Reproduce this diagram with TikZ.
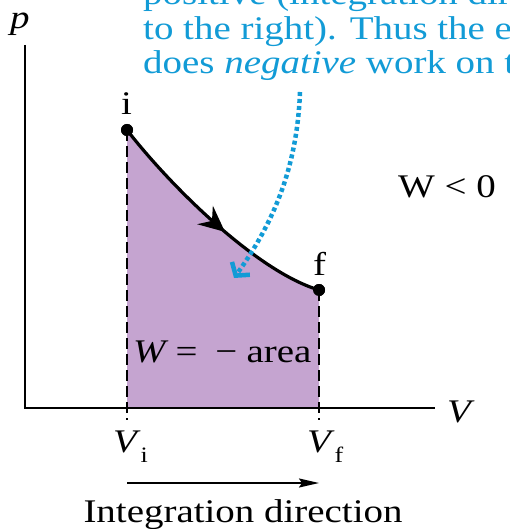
\documentclass[tikz,border=0pt]{standalone}
\usepackage{fontspec}
\setmainfont{Liberation Serif}
\usetikzlibrary{arrows.meta,decorations.markings}

\definecolor{areapurple}{RGB}{197,164,208}
\definecolor{noteblue}{RGB}{18,155,214}
\newcommand{\wide}[1]{\scalebox{1.18}[1]{#1}}

\begin{document}
\begin{tikzpicture}[x=1pt, y=-1pt, font=\fontsize{33}{36}\selectfont,
  axisline/.style={line width=2.4pt},
  bound/.style={line width=2.4pt, dash pattern=on 11pt off 5pt},
  statept/.style={circle, fill=black, inner sep=0pt, minimum size=12pt},
  lbl/.style={inner sep=0pt, anchor=base west},
  note/.style={lbl, text=noteblue}]

  \useasboundingbox (0,0) rectangle (509,529);
  \clip (0,0) rectangle (509,529);

  % === STATES AND AREA ===
  \node[statept] (i) at (127,130) {};
  \node[statept] (f) at (319,290) {};
  \coordinate (Vi) at (127,420);
  \coordinate (Vf) at (319,420);

  % Area under the process curve
  \fill[areapurple] (127,408) -- (i.center)
    .. controls (172,188) and (258,272) .. (f.center)
    -- (319,408) -- cycle;

  % Dashed bounds
  \draw[bound] (i.center) -- (Vi);
  \draw[bound] (f.center) -- (Vf);

  % Axes
  \coordinate (ptop) at (25,45);
  \coordinate (O) at (25,408);
  \coordinate (vend) at (435,408);
  \draw[axisline] (ptop) -- (O) -- (vend);
  \node[lbl] (plbl) at (10,29) {\wide{\textit{p}}};
  \node[lbl] (Vlbl) at (447,422) {\wide{\textit{V}}};

  % Process curve i -> f
  \draw[line width=3.2pt, postaction={decorate},
    decoration={markings, mark=at position 0.56 with
      {\arrow{Stealth[length=26pt, width=24pt, inset=9pt]}}}]
    (i.center) .. controls (172,188) and (258,272) .. (f.center);
  \node[statept] at (i) {};
  \node[statept] at (f) {};
  \node[lbl] (ilbl) at (121,115) {\wide{i}};
  \node[lbl] (flbl) at (313,275) {\wide{f}};

  % === NOTE ===
  \node[note] (note1) at (143,5) {\wide{positive (integration direction is}};
  \node[note] (note2) at (143,40) {\wide{to the right). Thus the environment}};
  \node[note] (note3) at (143,74) {\wide{does \textit{negative} work on the gas.}};
  \coordinate (nstart) at (300,92);
  \coordinate (nend) at (234,278);
  \draw[noteblue, line width=4.5pt, dash pattern=on 4pt off 3pt,
    -{Straight Barb[length=9pt, width=22pt]}]
    (nstart) .. controls (297,170) and (272,225) .. (nend);

  \node[lbl] (wneg) at (398,197) {\wide{W < 0}};
  \node[lbl] (warea) at (133,362)
    {\wide{\textit{W}\hspace{6pt}=\hspace{15pt}−\hspace{8pt}area}};

  % Volume labels
  \node[lbl] (vilbl) at (113,452)
    {\wide{\textit{V}\raisebox{-10pt}{\fontsize{22}{22}\selectfont i}}};
  \node[lbl] (vflbl) at (307,452)
    {\wide{\textit{V}\raisebox{-10pt}{\fontsize{22}{22}\selectfont f}}};

  % Integration direction
  \coordinate (ia) at (127,483);
  \coordinate (ib) at (319,483);
  \draw[line width=2pt, -{Stealth[length=20pt, width=9pt, inset=3pt]}]
    (ia) -- (ib);
  \node[inner sep=0pt, anchor=base] (intlbl) at (243,522)
    {\wide{Integration direction}};

\end{tikzpicture}
\end{document}
